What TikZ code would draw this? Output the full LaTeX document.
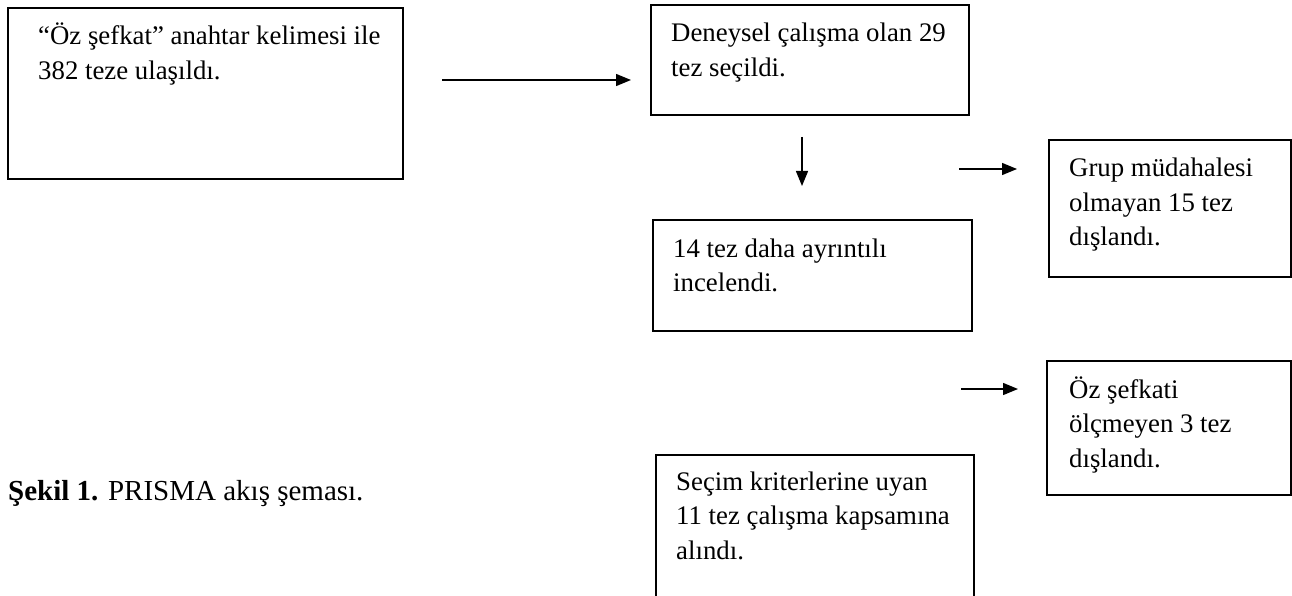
\documentclass[tikz,border=0pt]{standalone}
\usepackage{fontspec}
\setmainfont{Liberation Serif}
\usetikzlibrary{arrows.meta}
\newcommand\btext[2]{\begin{minipage}[t]{#1pt}\raggedright #2\end{minipage}}
\tikzset{
  boxframe/.style={draw=black, line width=1.7pt, fill=none},
  btxt/.style={anchor=base west, inner sep=0pt, font=\fontsize{26.8}{34.5}\selectfont},
  conn/.style={line width=1.4pt, -{Triangle[length=15pt,width=12pt]}},
}
\begin{document}
\begin{tikzpicture}[x=1pt,y=-1pt]
\useasboundingbox (0,0) rectangle (1292,596);
\fill[white] (0,0) rectangle (1292,596);
\begin{scope}
\clip (0,0) rectangle (1292,596);
% boxes
\draw[boxframe] (8,8) rectangle (403,179);
\draw[boxframe] (651,5) rectangle (969,115);
\draw[boxframe] (653,220) rectangle (972,331);
\draw[boxframe] (1049,140) rectangle (1291,277);
\draw[boxframe] (1047,361) rectangle (1291,495);
\draw[boxframe] (656,455) rectangle (974,640);
\end{scope}
% texts
\node[btxt] (t1) at (38,45) {\btext{360}{“Öz şefkat” anahtar kelimesi ile\\382 teze ulaşıldı.}};
\node[btxt] (t2) at (671,42) {\btext{290}{Deneysel çalışma olan 29\\tez seçildi.}};
\node[btxt] (t3) at (673,257) {\btext{290}{14 tez daha ayrıntılı\\incelendi.}};
\node[btxt] (t4) at (1069,177) {\btext{220}{Grup müdahalesi\\olmayan 15 tez\\dışlandı.}};
\node[btxt] (t5) at (1069,398) {\btext{220}{Öz şefkati\\ölçmeyen 3 tez\\dışlandı.}};
\node[btxt] (t6) at (676,490) {\btext{290}{Seçim kriterlerine uyan\\11 tez çalışma kapsamına\\alındı.}};
\node[anchor=base west, inner sep=0pt, font=\fontsize{29}{34}\selectfont] (cap) at (8,500) {\textbf{Şekil 1.} PRISMA akış şeması.};
% arrows
\coordinate (a1s) at (442,80); \coordinate (a1e) at (631,80);
\coordinate (a2s) at (802,137); \coordinate (a2e) at (802,186);
\coordinate (a3s) at (959,169); \coordinate (a3e) at (1017,169);
\coordinate (a4s) at (961,389); \coordinate (a4e) at (1018,389);
\draw[conn] (a1s) -- (a1e);
\draw[conn] (a2s) -- (a2e);
\draw[conn] (a3s) -- (a3e);
\draw[conn] (a4s) -- (a4e);
\end{tikzpicture}
\end{document}
